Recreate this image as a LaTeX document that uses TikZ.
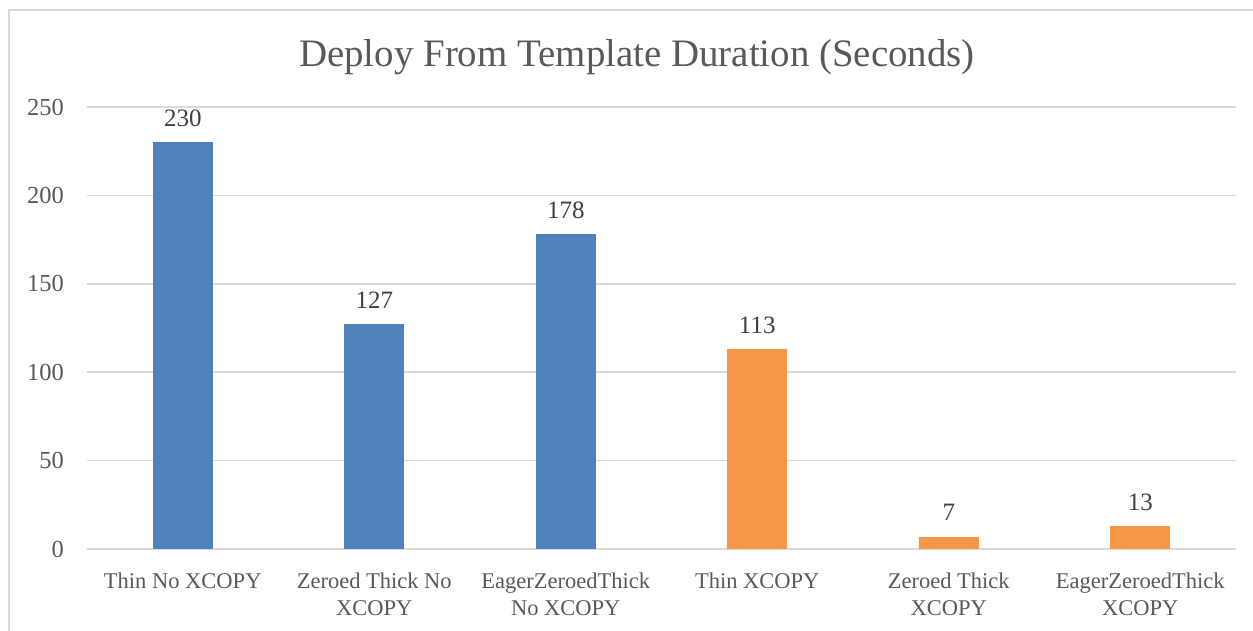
\documentclass[tikz,border=0pt]{standalone}
\usepackage{fontspec}
\setmainfont{Liberation Serif}
\usetikzlibrary{positioning}

\definecolor{barblue}{HTML}{4F81BD}
\definecolor{barorange}{HTML}{F79646}
\definecolor{gridgray}{HTML}{D9D9D9}
\definecolor{textgray}{HTML}{595959}
\definecolor{valgray}{HTML}{404040}

\tikzset{
  gridline/.style={gridgray, line width=1.5pt},
  ticklabel/.style={anchor=east, inner sep=0pt, text=textgray, font=\fontsize{24.5}{28}\selectfont},
  valuelabel/.style={anchor=base, inner sep=0pt, text=valgray, font=\fontsize{25}{28}\selectfont},
  catlabel/.style={anchor=north, inner sep=0pt, align=center, text=textgray, font=\fontsize{22.5}{27}\selectfont},
}

\begin{document}
\begin{tikzpicture}[x=1pt, y=-1pt]

    \useasboundingbox (0,0) rectangle (1253,631);

    % chart frame
    \draw[gridline] (9,631) |- (1253,10);

    \node[anchor=base, text=textgray, font=\fontsize{38.9}{44}\selectfont] (title) at (637,67) {Deploy From Template Duration (Seconds)};

    % grid and axis values
    \foreach \v in {0,50,...,250}{
        \pgfmathsetmacro{\gy}{549-1.768*\v}
        \draw[gridline] (87,\gy) -- (1236,\gy);
        \node[ticklabel] (tick\v) at (64,\gy) {\v};
    }

    % bars
    \foreach \i/\val/\col/\txt in {1/230/barblue/{Thin No XCOPY},
                                   2/127/barblue/{Zeroed Thick No\\XCOPY},
                                   3/178/barblue/{EagerZeroedThick\\No XCOPY},
                                   4/113/barorange/{Thin XCOPY},
                                   5/7/barorange/{Zeroed Thick\\XCOPY},
                                   6/13/barorange/{EagerZeroedThick\\XCOPY}}{
        \pgfmathsetmacro{\cx}{87+191.5*(\i-0.5)}
        \pgfmathsetmacro{\bartop}{549-1.768*\val}
        \fill[\col] (\cx-30,549) rectangle (\cx+30,\bartop);
        \node[valuelabel] (val\i) at (\cx,\bartop-16) {\val};
        \node[catlabel] (cat\i) at (\cx,572.5) {\txt};
    }

\end{tikzpicture}
\end{document}
